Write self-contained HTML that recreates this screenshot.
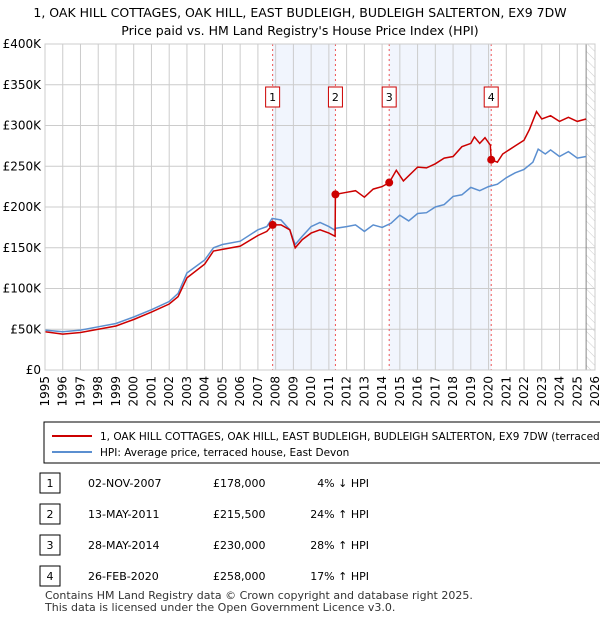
<!DOCTYPE html>
<html><head><meta charset="utf-8"><style>
body{margin:0;background:#fff;font-family:"Liberation Sans","DejaVu Sans",sans-serif;}
svg text{font-family:"DejaVu Sans","Liberation Sans",sans-serif;}
</style></head><body>
<svg id="c" width="600" height="620" viewBox="0 0 600 620" xmlns="http://www.w3.org/2000/svg">
<defs><pattern id="hatch" width="6" height="6" patternUnits="userSpaceOnUse" patternTransform="rotate(-45)"><line x1="0" y1="0" x2="0" y2="6" stroke="#ccc" stroke-width="1"/></pattern></defs>
<text x="300" y="17" text-anchor="middle" font-size="12.5" fill="#000">1, OAK HILL COTTAGES, OAK HILL, EAST BUDLEIGH, BUDLEIGH SALTERTON, EX9 7DW</text>
<text x="300" y="35" text-anchor="middle" font-size="12.5" fill="#000">Price paid vs. HM Land Registry's House Price Index (HPI)</text>
<g id="plot"></g>
<rect x="44" y="422" width="570" height="41" fill="#fff" stroke="#000" stroke-width="1"/>
<line x1="52" y1="436" x2="92" y2="436" stroke="#cc0000" stroke-width="2"/>
<text x="100" y="440" font-size="10.5">1, OAK HILL COTTAGES, OAK HILL, EAST BUDLEIGH, BUDLEIGH SALTERTON, EX9 7DW (terraced</text>
<line x1="52" y1="452" x2="92" y2="452" stroke="#5b8fd0" stroke-width="2"/>
<text x="100" y="456" font-size="10.5">HPI: Average price, terraced house, East Devon</text>
<g id="tbl"></g>
<text x="45" y="599" font-size="11" fill="#333">Contains HM Land Registry data © Crown copyright and database right 2025.</text>
<text x="45" y="611" font-size="11" fill="#333">This data is licensed under the Open Government Licence v3.0.</text>
</svg>
<script>
const hpiDates=[1995,1996,1997,1998,1999,2000,2001,2002,2002.5,2003,2004,2004.5,2005,2006,2007,2007.5,2007.8,2008.3,2008.8,2009.1,2009.5,2010,2010.5,2011,2011.3,2011.4,2012,2012.5,2013,2013.5,2014,2014.5,2015,2015.5,2016,2016.5,2017,2017.5,2018,2018.5,2019,2019.5,2020,2020.5,2021,2021.5,2022,2022.5,2022.8,2023.2,2023.5,2024,2024.5,2025,2025.5];
const hpiValues=[49,47,49,53,57,65,74,84,94,119,135,150,154,158,172,176,186,184,172,154,164,176,181,176,172,174,176,178,170,178,175,180,190,183,192,193,200,203,213,215,224,220,225,228,236,242,246,255,271,265,270,262,268,260,262];
const priceDates=[1995,1996,1997,1998,1999,2000,2001,2002,2002.5,2003,2004,2004.5,2005,2006,2007,2007.5,2007.83,2008.3,2008.8,2009.1,2009.5,2010,2010.5,2011,2011.35,2011.37,2012,2012.5,2013,2013.5,2014,2014.4,2014.8,2015.2,2016,2016.5,2017,2017.5,2018,2018.5,2019,2019.2,2019.5,2019.8,2020.1,2020.15,2020.5,2020.8,2021.5,2022,2022.3,2022.7,2023,2023.5,2024,2024.5,2025,2025.5];
const priceValues=[47,44,46,50,54,62,71,81,90,113,130,146,148,152,165,170,178,178,172,150,160,168,172,168,164,215.5,218,220,212,222,225,230,245,232,249,248,253,260,262,274,278,286,278,285,276,258,255,265,275,282,295,317,308,312,305,310,305,308];
const saleDates=[2007.83,2011.37,2014.4,2020.15];
const salePrices=[178,215.5,230,258];
const saleLabels=["1","2","3","4"];
const yTicks=[0,50,100,150,200,250,300,350,400];
const yTickLabels=["£0","£50K","£100K","£150K","£200K","£250K","£300K","£350K","£400K"];
const years=[1995,1996,1997,1998,1999,2000,2001,2002,2003,2004,2005,2006,2007,2008,2009,2010,2011,2012,2013,2014,2015,2016,2017,2018,2019,2020,2021,2022,2023,2024,2025,2026];
const tDates=["02-NOV-2007","13-MAY-2011","28-MAY-2014","26-FEB-2020"];
const tPrices=["£178,000","£215,500","£230,000","£258,000"];
const tHpi=["4% ↓ HPI","24% ↑ HPI","28% ↑ HPI","17% ↑ HPI"];

const NS="http://www.w3.org/2000/svg";
const X0=45,X1=595,Y0=370,Y1=44;
const x=d=>X0+(d-1995)*(X1-X0)/31;
const y=v=>Y0-v*(Y0-Y1)/400;
const g=document.getElementById('plot');
function mk(tag,attrs,parent){const e=document.createElementNS(NS,tag);for(const k in attrs)e.setAttribute(k,attrs[k]);(parent||g).appendChild(e);return e;}
mk('rect',{x:X0,y:Y1,width:X1-X0,height:Y0-Y1,fill:'#fff'});
// shaded spans
for(let i=0;i<saleDates.length;i+=2){
 const r=mk('rect',{x:x(saleDates[i]),y:Y1,width:x(saleDates[i+1])-x(saleDates[i]),height:Y0-Y1,fill:'#eef2fc',opacity:0.8});
 
 
}
const hs=mk('rect',{x:x(2025.5),y:Y1,width:X1-x(2025.5),height:Y0-Y1,fill:'url(#hatch)'});


years.forEach(yr=>{
 mk('line',{x1:x(yr),y1:Y1,x2:x(yr),y2:Y0,stroke:'#ccc','stroke-width':1});
 const t=mk('text',{x:0,y:0,'font-size':12,'text-anchor':'end',transform:`translate(${x(yr)+4},${Y0+6}) rotate(-90)`});
 t.textContent=yr;
 
 
});
yTicks.forEach((v,i)=>{
 mk('line',{x1:X0,y1:y(v),x2:X1,y2:y(v),stroke:'#ccc','stroke-width':1});
 const t=mk('text',{x:X0-4,y:y(v)+4,'font-size':12,'text-anchor':'end'});
 t.textContent=yTickLabels[i];
 
 
});
mk('line',{x1:x(2025.5),y1:Y1,x2:x(2025.5),y2:Y0,stroke:'#888','stroke-width':1});
saleDates.forEach((d,i)=>{
 const l=mk('line',{x1:x(d),y1:Y1,x2:x(d),y2:Y0,stroke:'#e55','stroke-width':1,'stroke-dasharray':'2,3'});
 
 
 const b=mk('rect',{x:x(d)-7,y:87,width:14,height:20,fill:'#fff',stroke:'#cc0000','stroke-width':1});
 
 
 const t=mk('text',{x:x(d),y:101,'font-size':11,'text-anchor':'middle'});
 t.textContent=saleLabels[i];
 
 
});
const pts=(ds,vs)=>ds.map((d,i)=>x(d).toFixed(1)+','+y(vs[i]).toFixed(1)).join(' ');
const hl=mk('polyline',{points:pts(hpiDates,hpiValues),fill:'none',stroke:'#5b8fd0','stroke-width':1.5});


const pl=mk('polyline',{points:pts(priceDates,priceValues),fill:'none',stroke:'#cc0000','stroke-width':1.5});


saleDates.forEach((d,i)=>{
 const c=mk('circle',{cx:x(d),cy:y(salePrices[i]),r:4,fill:'#cc0000'});
 
 
});
mk('rect',{x:X0,y:Y1,width:X1-X0,height:Y0-Y1,fill:'none',stroke:'#ccc','stroke-width':1});
const tb=document.getElementById('tbl');
tDates.forEach((d,i)=>{
 const yy=486+i*31;
 const b=mk('rect',{x:40,y:yy-13,width:20,height:20,fill:'#fff',stroke:'#000','stroke-width':1},tb);
 
 
 const n=mk('text',{x:50,y:yy+1,'font-size':11,'text-anchor':'middle'},tb);n.textContent=saleLabels[i];
 
 
 const a=mk('text',{x:88,y:yy+1,'font-size':11},tb);a.textContent=d;
 
 
 const p=mk('text',{x:213,y:yy+1,'font-size':11},tb);p.textContent=tPrices[i];
 
 
 const h=mk('text',{x:369,y:yy+1,'font-size':11,'text-anchor':'end'},tb);h.textContent=tHpi[i];
 
 
});
</script>
</body></html>
